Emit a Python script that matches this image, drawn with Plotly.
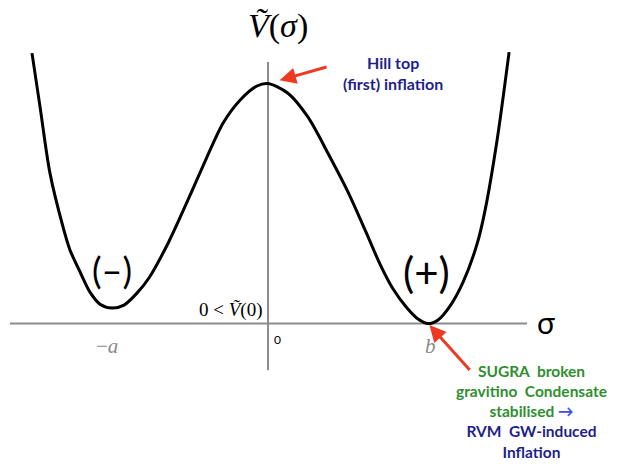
import plotly.graph_objects as go

# potential curve V(sigma) (b ~ 1, hill top ~ 1)
sigma = [-1.457, -1.407, -1.346, -1.265, -1.222, -1.160, -1.099, -1.037, -0.963,
         -0.889, -0.809, -0.735, -0.617, -0.481, -0.377, -0.278, -0.173, -0.068,
         0.0, 0.123, 0.247, 0.370, 0.494, 0.605, 0.691, 0.772, 0.858, 0.926,
         0.988, 1.049, 1.123, 1.204, 1.290, 1.340, 1.414, 1.488]
v_sigma = [1.127, 0.902, 0.627, 0.402, 0.306, 0.215, 0.131, 0.081, 0.065,
           0.077, 0.127, 0.190, 0.335, 0.535, 0.694, 0.835, 0.931, 0.990,
           1.0, 0.960, 0.860, 0.710, 0.548, 0.381, 0.248, 0.144, 0.065, 0.019,
           0.0, 0.015, 0.073, 0.173, 0.331, 0.473, 0.765, 1.131]

# extent of the drawn axes
sigma_axis = [-1.593, 1.599]
v_axis = [-0.194, 1.090]

tick_labels = ["\u2212<i>a</i>", "0", "<i>b</i>"]

i_peak = v_sigma.index(max(v_sigma[5:30]))
i_left_min = v_sigma.index(min(v_sigma[:12]))
i_right_min = v_sigma.index(min(v_sigma[18:]))

AXIS_GREY = "#8c8c8c"
RED = "#ee3a22"
NAVY = "#1f1f8c"
GREEN = "#2f8f2f"
SERIF = "Liberation Serif, DejaVu Serif, serif"
SANS = "Lato, Open Sans, sans-serif"

fig = go.Figure()

fig.add_shape(type="line", x0=sigma_axis[0], x1=sigma_axis[1], y0=0, y1=0,
              line=dict(color=AXIS_GREY, width=2), layer="below")
fig.add_shape(type="line", x0=0, x1=0, y0=v_axis[0], y1=v_axis[1],
              line=dict(color=AXIS_GREY, width=2), layer="below")

fig.add_trace(go.Scatter(x=sigma, y=v_sigma, mode="lines",
                         line=dict(color="black", width=3, shape="spline", smoothing=0.8),
                         hoverinfo="skip", showlegend=False))

ann = []
# axis titles
ann.append(dict(x=0, y=v_axis[1], text="<i>\u1e7c</i>(<i>\u03c3</i>)", yshift=36, xshift=10,
                font=dict(family=SERIF, size=34, color="black")))
ann.append(dict(x=sigma_axis[1], y=0, text="\u03c3", xanchor="left", xshift=8, yshift=2,
                font=dict(family=SANS, size=30, color="black")))
# tick-like labels
ann.append(dict(x=sigma[i_left_min], y=0, text=tick_labels[0], yshift=-22, xshift=-5,
                font=dict(family=SERIF, size=21, color="#8a8a8a")))
ann.append(dict(x=0, y=0, text=tick_labels[1], yshift=-16, xshift=9,
                font=dict(family=SANS, size=12, color="black")))
ann.append(dict(x=sigma[i_right_min], y=0, text=tick_labels[2], yshift=-22, xshift=2,
                font=dict(family=SERIF, size=21, color="#8a8a8a")))
ann.append(dict(x=0, y=0, text="0 &lt; <i>\u1e7c</i>(0)", xanchor="right", yanchor="bottom",
                xshift=-4, yshift=1, font=dict(family=SERIF, size=19, color="black")))
# well labels
ann.append(dict(x=sigma[i_left_min], y=v_sigma[i_left_min], text="(\u2013)", yshift=38,
                font=dict(family=SANS, size=36, color="black")))
ann.append(dict(x=sigma[i_right_min], y=v_sigma[i_right_min], text="(+)", yshift=52, xshift=-2,
                font=dict(family=SANS, size=42, color="black")))
# arrows
ann.append(dict(x=sigma[i_peak], y=v_sigma[i_peak], text="", showarrow=True,
                ax=60, ay=-17, standoff=12, arrowhead=2, arrowsize=1.1,
                arrowwidth=3, arrowcolor=RED))
ann.append(dict(x=sigma[i_right_min], y=v_sigma[i_right_min], text="", showarrow=True,
                ax=43, ay=48, standoff=2, arrowhead=2, arrowsize=1.1,
                arrowwidth=3, arrowcolor=RED))
# notes
ann.append(dict(x=sigma[i_peak], y=v_sigma[i_peak], text="Hill top<br>(first) inflation",
                xshift=125, yshift=11, align="center",
                font=dict(family=SANS, size=16, color=NAVY, weight="bold")))
sp = "\u00a0\u00a0"
note = (f"<span style='color:{GREEN}'>SUGRA{sp}broken</span><br>"
        f"<span style='color:{GREEN}'>gravitino{sp}Condensate</span><br>"
        f"<span style='color:{GREEN}'>stabilised</span> <span style='color:#3a4ef0'>\u2192</span><br>"
        f"RVM{sp}GW-induced<br>Inflation")
ann.append(dict(x=sigma[i_right_min], y=v_sigma[i_right_min], text=note, align="center",
                yanchor="top", xshift=103, yshift=-36,
                font=dict(family=SANS, size=15.5, color=NAVY, weight="bold")))

for a in ann:
    a.setdefault("showarrow", False)
    a.setdefault("xref", "x")
    a.setdefault("yref", "y")
fig.update_layout(annotations=ann)

# the page puts the figure 8px in from the top-left corner, so the
# figure covers window pixels 8..617 x 8..464
fig.update_layout(
    width=609, height=456,
    margin=dict(l=0, r=0, t=0, b=0),
    paper_bgcolor="white", plot_bgcolor="white",
    xaxis=dict(range=[-1.605, 2.154], visible=False, fixedrange=True),
    yaxis=dict(range=[-0.585, 1.315], visible=False, fixedrange=True),
)

fig.write_html("out.html")
